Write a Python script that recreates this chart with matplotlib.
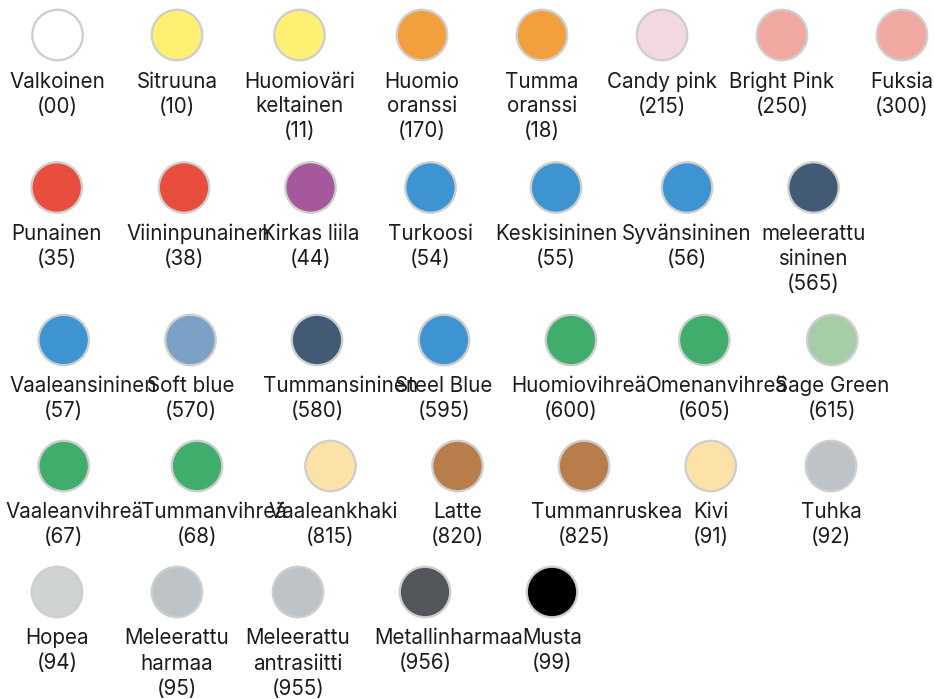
import matplotlib
matplotlib.use("Agg")
import matplotlib.pyplot as plt

# ---------------- data ----------------
names = [
    "Valkoinen", "Sitruuna", "Huomioväri\nkeltainen", "Huomio\noranssi", "Tumma\noranssi",
    "Candy pink", "Bright Pink", "Fuksia",
    "Punainen", "Viininpunainen", "Kirkas liila", "Turkoosi", "Keskisininen",
    "Syvänsininen", "meleerattu\nsininen",
    "Vaaleansininen", "Soft blue", "Tummansininen", "Steel Blue", "Huomiovihreä",
    "Omenanvihreä", "Sage Green",
    "Vaaleanvihreä", "Tummanvihreä", "Vaaleankhaki", "Latte", "Tummanruskea", "Kivi", "Tuhka",
    "Hopea", "Meleerattu\nharmaa", "Meleerattu\nantrasiitti", "Metallinharmaa", "Musta",
]
codes = [
    "00", "10", "11", "170", "18", "215", "250", "300",
    "35", "38", "44", "54", "55", "56", "565",
    "57", "570", "580", "595", "600", "605", "615",
    "67", "68", "815", "820", "825", "91", "92",
    "94", "95", "955", "956", "99",
]
colors = [
    "#FFFFFF", "#FEF072", "#FEF072", "#F2A03D", "#F2A03D", "#F2D8E1", "#F1A8A0", "#F1A8A0",
    "#E84D3D", "#E84D3D", "#A5589B", "#3E94D1", "#3E94D1", "#3E94D1", "#425A74",
    "#3E94D1", "#7BA1C6", "#425A74", "#3E94D1", "#40AD6C", "#40AD6C", "#A5CDA8",
    "#40AD6C", "#40AD6C", "#FCE2A6", "#B87D4B", "#B87D4B", "#FCE2A6", "#BDC3C7",
    "#D0D4D1", "#BDC3C7", "#BDC3C7", "#53575B", "#000000",
]

# ---------------- layout (pixels) ----------------
row_sizes = [8, 7, 7, 7, 5]
row_x = [
    [57.5, 177, 299.5, 422, 542, 662, 782, 902],
    [56.7, 184, 310.5, 430.5, 556, 687, 813.5],
    [63.7, 190.5, 317, 444, 571, 704.3, 832.3],
    [63.7, 197, 330.5, 457.5, 584, 710.7, 831],
    [57, 177, 298, 425, 552],
]
# horizontal shift of an overflowing first name line (text spills to the right of its cell)
name_dx = [
    0, 0, 0, 0, 0, 0, 0, 0,
    0, 14, 0, 0, 0, 0, 0,
    19.5, 0, 24, 0, 8, 12, 0,
    10.5, 16.5, 2.5, 0, 22.5, 0, 0,
    0, 0, 0, 24, 0,
]
W, H = 934, 699
first_row_y = 35.0
row_base = 73.0
row_line = 26.5
text_offset = 52.5
line_step = 25.0
swatch_d = 50.5   # px, fill diameter
edge_w = 2.3      # px
fontsize_px = 20.6

px2pt = 72.0 / 100.0

plt.rcParams['font.family'] = ['Inter', 'DejaVu Sans']
fig = plt.figure(figsize=(W / 100, H / 100), dpi=100)
ax = fig.add_axes([0, 0, 1, 1])
ax.set_xlim(0, W)
ax.set_ylim(H, 0)
ax.axis("off")

idx = 0
cy = first_row_y
for r, n in enumerate(row_sizes):
    xs = row_x[r]
    ys = [cy] * n
    ax.scatter(xs, ys, s=(swatch_d * px2pt) ** 2, c=colors[idx: idx + n],
               edgecolors="#CECECE", linewidths=edge_w * px2pt, zorder=3)
    max_lines = 0
    for j, x in enumerate(xs):
        i = idx + j
        lines = names[i].split("\n") + [f"({codes[i]})"]
        max_lines = max(max_lines, len(lines))
        for k, line in enumerate(lines):
            dx = name_dx[i] if k == 0 else 0
            ax.text(x + dx, cy + text_offset + k * line_step, line, ha="center", va="baseline",
                    fontsize=fontsize_px * px2pt, color="#1C1C1C")
    idx += n
    cy += row_base + row_line * max_lines

fig.savefig("out.png", dpi=100, facecolor="white")
